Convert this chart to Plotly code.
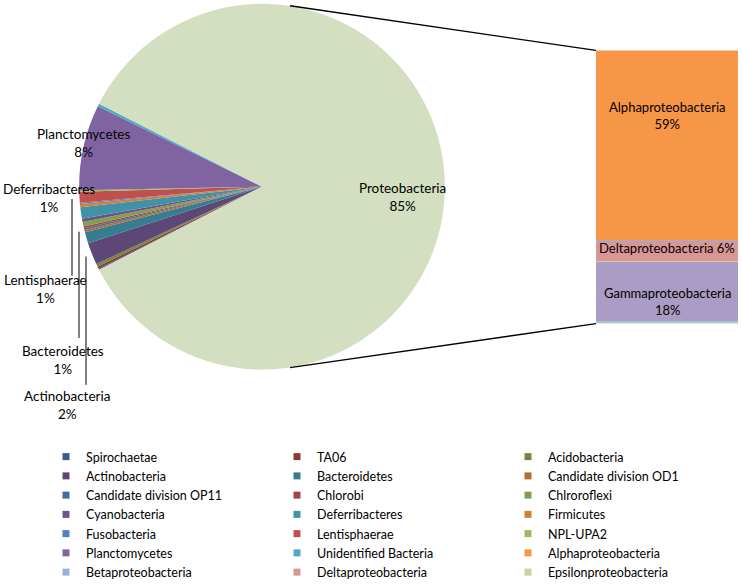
import plotly.graph_objects as go

W, H = 743, 587

# ---- data ----
pie_labels = ["Spirochaetae", "TA06", "Acidobacteria", "Actinobacteria", "Bacteroidetes",
              "Candidate division OD1", "Candidate division OP11", "Chlorobi", "Chlroroflexi",
              "Cyanobacteria", "Deferribacteres", "Firmicutes", "Fusobacteria", "Lentisphaerae",
              "NPL-UPA2", "Planctomycetes", "Unidentified Bacteria"]
pie_values = [0.10, 0.20, 0.25, 1.95, 1.00, 0.20, 0.15, 0.15, 0.40, 0.30, 1.00, 0.30,
              0.10, 0.95, 0.15, 7.55, 0.25]
other_label = "Proteobacteria"

bar_labels = ["Alphaproteobacteria", "Betaproteobacteria", "Deltaproteobacteria",
              "Epsilonproteobacteria", "Gammaproteobacteria", "Zetaproteobacteria",
              "Unclassified Proteobacteria"]
bar_values = [59.0, 0.3, 6.1, 0.5, 18.3, 0.5, 0.3]

# ---- styles ----
pie_colors = ["#385D8A", "#8C3836", "#71893F", "#5C4776", "#357D91", "#B66D31",
              "#426DA0", "#A34441", "#839F4B", "#6C5489", "#3F92A8", "#D17F3B",
              "#4F81BD", "#C0504D", "#9BBB59", "#8064A2", "#4BACC6"]
other_color = "#D3DFC0"
bar_colors = ["#F79646", "#95B3D7", "#D99694", "#C3D69B", "#AA9CC4", "#93CDDD", "#FAC090"]
n_legend_bar = 4  # bar entries visible in the (cut off) legend

FONT = "Lato"
px = lambda x: x / W
py = lambda y: 1 - y / H

other_value = sum(bar_values)
small_total = sum(pie_values)
total = small_total + other_value

fig = go.Figure()

# pie (clockwise, small slices on the left, "other" slice facing the bar)
fig.add_trace(go.Pie(
    labels=pie_labels + [other_label],
    values=pie_values + [other_value],
    marker=dict(colors=pie_colors + [other_color], line=dict(width=0)),
    sort=False, direction="clockwise",
    rotation=270 - small_total / total * 360 / 2,
    textinfo="none", hoverinfo="label+percent", showlegend=False,
    domain=dict(x=[px(262 - 191), px(262 + 191)], y=[py(195 + 191), py(195 - 191)]),
))

# stacked bar (first trace at the bottom)
for name, v, c in reversed(list(zip(bar_labels, bar_values, bar_colors))):
    fig.add_trace(go.Bar(x=[0], y=[v], name=name, marker=dict(color=c, line=dict(width=0)),
                         width=1, showlegend=False, xaxis="x", yaxis="y"))

# legend entries (three columns, row-major)
leg_names = pie_labels + bar_labels[:n_legend_bar]
leg_colors = pie_colors + bar_colors[:n_legend_bar]
legend_ids = ["legend", "legend2", "legend3"]
for i, (n, c) in enumerate(zip(leg_names, leg_colors)):
    fig.add_trace(go.Scatter(x=[None], y=[None], mode="markers", name=n,
                             marker=dict(symbol="square", size=7, color=c),
                             legend=legend_ids[i % 3], hoverinfo="skip"))

annotations = []
lab_font = dict(family=FONT, size=13.5, color="#000")
# pie labels
pie_label_pos = {"Planctomycetes": (83, 149), "Deferribacteres": (49, 207),
                 "Lentisphaerae": (45, 302), "Bacteroidetes": (63, 375.5),
                 "Actinobacteria": (67, 422.5)}
for name, v in zip(pie_labels, pie_values):
    if name in pie_label_pos:
        x, y = pie_label_pos[name]
        annotations.append(dict(x=px(x), y=py(y), xref="paper", yref="paper",
                                xanchor="center", yanchor="middle",
                                text=f"{name}<br>{round(v / total * 100)}%", showarrow=False,
                                font=lab_font))
annotations.append(dict(x=px(402), y=py(206), xref="paper", yref="paper",
                        xanchor="center", yanchor="middle",
                        text=f"{other_label}<br>{round(other_value / total * 100)}%",
                        showarrow=False, font=lab_font))

# bar labels at the segment centres
bar_label_shift = {"Alphaproteobacteria": 30, "Deltaproteobacteria": 3, "Gammaproteobacteria": -10}
top = other_value
for name, v in zip(bar_labels, bar_values):
    mid = top - v / 2
    top -= v
    if name in bar_label_shift:
        pct = round(v / total * 100)
        txt = f"{name} {pct}%" if v < 10 else f"{name}<br>{pct}%"
        annotations.append(dict(x=0, y=mid, xref="x", yref="y", text=txt, showarrow=False,
                                xanchor="center", yanchor="middle",
                                yshift=bar_label_shift[name],
                                font=dict(family=FONT, size=13, color="#000")))

line = dict(color="#000", width=1.3)
thin = dict(color="#000", width=1)
shapes = [
    dict(type="line", xref="paper", yref="paper", x0=px(290), y0=py(6), x1=px(596), y1=py(52.7), line=line),
    dict(type="line", xref="paper", yref="paper", x0=px(290), y0=py(384), x1=px(596), y1=py(338), line=line),
    dict(type="line", xref="paper", yref="paper", x0=px(72), y0=py(208), x1=px(72), y1=py(288), line=thin),
    dict(type="line", xref="paper", yref="paper", x0=px(79), y0=py(242), x1=px(79), y1=py(353), line=thin),
    dict(type="line", xref="paper", yref="paper", x0=px(86), y0=py(268), x1=px(86), y1=py(402), line=thin),
]

leg_common = dict(orientation="v", xanchor="left", yanchor="top", bgcolor="rgba(0,0,0,0)",
                  font=dict(family=FONT, size=12.5, color="#000"), itemsizing="trace",
                  tracegroupgap=0, traceorder="normal")
fig.update_layout(
    width=W, height=H, margin=dict(l=0, r=0, t=0, b=0),
    paper_bgcolor="white", plot_bgcolor="white", barmode="stack",
    xaxis=dict(domain=[px(596), px(738)], range=[-0.5, 0.5], visible=False, fixedrange=True),
    yaxis=dict(domain=[py(338), py(52.7)], range=[0, other_value], visible=False, fixedrange=True),
    legend=dict(x=px(46), y=py(462), **leg_common),
    legend2=dict(x=px(277), y=py(462), **leg_common),
    legend3=dict(x=px(508), y=py(462), **leg_common),
    annotations=annotations, shapes=shapes,
    font=dict(family=FONT, size=13, color="#000"),
)

# remove the browser's default 8px page margin so the figure sits at (0, 0)
fig.write_html("out.html", config={"displayModeBar": False},
               post_script="document.body.style.margin='0';")
